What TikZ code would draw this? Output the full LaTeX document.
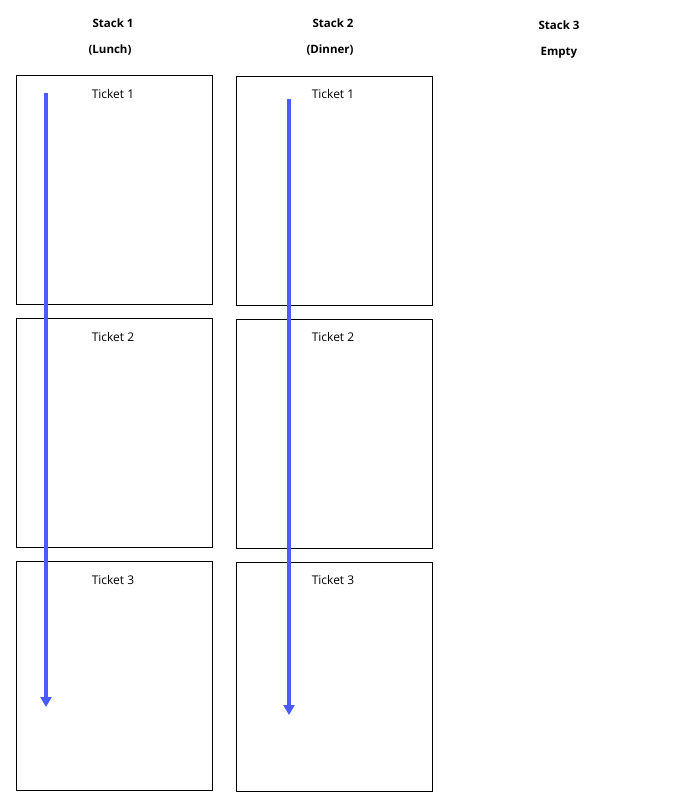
\documentclass[tikz,border=0pt]{standalone}
\usepackage{fontspec}
\setmainfont{Open Sans}
\usetikzlibrary{arrows.meta}
\begin{document}
\begin{tikzpicture}[x=1pt,y=-1pt,
  ticket/.style={draw=black,line width=0.6pt,minimum width=196pt,minimum height=229pt,inner sep=0pt,anchor=north west},
  tlabel/.style={font=\fontsize{12}{14}\selectfont},
  title/.style={font=\bfseries\fontsize{11.5}{14}\selectfont},
  flow/.style={draw={rgb,255:red,74;green,92;blue,255},line width=3.2pt,-{Triangle[length=10pt,width=11pt]}}]
\useasboundingbox (0,0) rectangle (675,803);
\node[title] (s1) at (113,23) {Stack 1};
\node[title] (s1b) at (110,50) {(Lunch)};
\node[title] (s2) at (333,23) {Stack 2};
\node[title] (s2b) at (330,50) {(Dinner)};
\node[title] (s3) at (559,25) {Stack 3};
\node[title] (s3b) at (559,53) {Empty};
\node[ticket] (a1) at (16,75) {};
\node[ticket] (a2) at (16,318) {};
\node[ticket] (a3) at (16,561) {};
\node[ticket] (b1) at (236,76) {};
\node[ticket] (b2) at (236,319) {};
\node[ticket] (b3) at (236,562) {};
\node[tlabel] (la1) at (113,94) {Ticket 1};
\node[tlabel] (la2) at (113,337) {Ticket 2};
\node[tlabel] (la3) at (113,580) {Ticket 3};
\node[tlabel] (lb1) at (333,94) {Ticket 1};
\node[tlabel] (lb2) at (333,337) {Ticket 2};
\node[tlabel] (lb3) at (333,580) {Ticket 3};
\coordinate (p1) at (46,93);
\coordinate (q1) at (46,707);
\coordinate (p2) at (289,99);
\coordinate (q2) at (289,715);
\draw[flow] (p1) -- (q1);
\draw[flow] (p2) -- (q2);
\end{tikzpicture}
\end{document}
